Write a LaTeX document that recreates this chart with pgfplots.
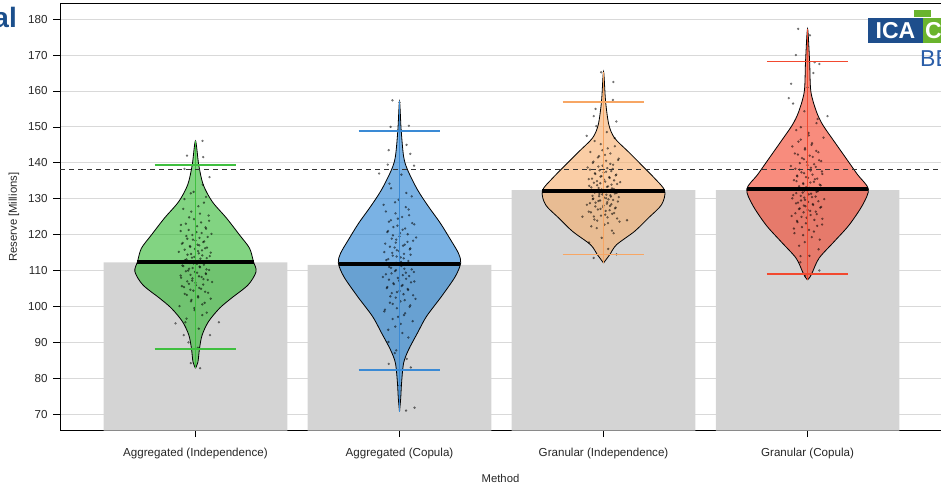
\documentclass[border=0pt]{standalone}
\usepackage{fontspec}
\setmainfont{Liberation Sans}
\usepackage{pgfplots}
\pgfplotsset{compat=1.18}
\usepackage{pgfplotstable}

\definecolor{gfill}{HTML}{2EB82E}
\definecolor{bfill}{HTML}{217FD2}
\definecolor{ofill}{HTML}{F6AC69}
\definecolor{rfill}{HTML}{F33F26}
\definecolor{gline}{HTML}{3FBF3F}
\definecolor{bline}{HTML}{3A8AD5}
\definecolor{oline}{HTML}{F7A664}
\definecolor{rline}{HTML}{F2492F}
\definecolor{barg}{HTML}{D4D4D4}
\definecolor{titleblue}{HTML}{1B4F8C}
\definecolor{icablue}{HTML}{1E4E8C}
\definecolor{icagreen}{HTML}{6AB42D}
\definecolor{beblue}{HTML}{2B5EA8}

% violin outlines (offset from category centre, value), right side up, left side down
\pgfplotstableread{
dx y
0 82.8
0.012 84.5
0.02 88.4
0.033 92.1
0.064 95.8
0.118 99.5
0.176 102.3
0.258 106.0
0.297 109.7
0.284 112.5
0.265 116.2
0.216 119.9
0.152 124.6
0.082 129.2
0.038 133.9
0.016 139.4
0 146.1
-0.016 139.4
-0.038 133.9
-0.082 129.2
-0.152 124.6
-0.216 119.9
-0.265 116.2
-0.284 112.5
-0.297 109.7
-0.258 106.0
-0.176 102.3
-0.118 99.5
-0.064 95.8
-0.033 92.1
-0.02 88.4
-0.012 84.5
0 82.8
}\vG
\pgfplotstableread{
dx y
0 70.7
0.006 74.5
0.01 78.6
0.02 84.2
0.044 87.9
0.088 92.6
0.132 97.2
0.206 102.8
0.273 108.3
0.300 112.1
0.289 114.8
0.25 118.6
0.2 123.2
0.142 127.8
0.088 132.5
0.039 138.1
0.02 141.8
0.008 149.2
0 157.1
-0.008 149.2
-0.02 141.8
-0.039 138.1
-0.088 132.5
-0.142 127.8
-0.2 123.2
-0.25 118.6
-0.289 114.8
-0.300 112.1
-0.273 108.3
-0.206 102.8
-0.132 97.2
-0.088 92.6
-0.044 87.9
-0.02 84.2
-0.01 78.6
-0.006 74.5
0 70.7
}\vB
\pgfplotstableread{
dx y
0 112.1
0.03 114.4
0.064 117.2
0.152 120.9
0.219 124.6
0.284 128.3
0.300 132.2
0.25 135.7
0.186 139.4
0.121 143.1
0.054 146.9
0.026 150.6
0.01 157.1
0 165.4
-0.01 157.1
-0.026 150.6
-0.054 146.9
-0.121 143.1
-0.186 139.4
-0.25 135.7
-0.300 132.2
-0.284 128.3
-0.219 124.6
-0.152 120.9
-0.064 117.2
-0.03 114.4
0 112.1
}\vO
\pgfplotstableread{
dx y
0 107.4
0.012 108.2
0.025 109.7
0.057 113.5
0.131 118.1
0.204 122.7
0.27 128.3
0.298 132.7
0.245 136.7
0.188 141.3
0.131 145.9
0.074 150.6
0.043 154.3
0.016 159.9
0.01 168.2
0 177.3
-0.01 168.2
-0.016 159.9
-0.043 154.3
-0.074 150.6
-0.131 145.9
-0.188 141.3
-0.245 136.7
-0.298 132.7
-0.27 128.3
-0.204 122.7
-0.131 118.1
-0.057 113.5
-0.025 109.7
-0.012 108.2
0 107.4
}\vR

% jittered points: offset from category centre, value
\pgfplotstableread{
dx y
0.031 133.9
-0.047 129.9
0.012 127.9
-0.018 126.4
0.056 125.3
-0.006 124.3
0.024 123.4
-0.062 122.7
0.043 122.0
-0.029 121.3
0.004 120.7
0.068 120.2
-0.039 119.6
0.017 119.1
-0.011 118.6
0.037 118.1
-0.054 117.7
0.009 117.2
-0.024 116.8
0.049 116.4
-0.002 116.0
0.028 115.6
-0.071 115.2
0.014 114.8
-0.034 114.4
0.061 114.0
-0.015 113.6
0.021 113.3
-0.044 112.9
0.002 112.5
0.062 92.0
-0.043 95.6
0.029 97.6
-0.004 99.0
-0.068 100.1
0.039 101.0
-0.017 101.8
0.011 102.5
-0.037 103.2
0.054 103.8
-0.009 104.4
0.024 104.9
-0.049 105.4
0.002 105.9
-0.028 106.3
0.071 106.8
-0.014 107.2
0.034 107.6
-0.061 108.0
0.015 108.4
-0.021 108.8
0.044 109.2
-0.002 109.6
-0.031 110.0
0.047 110.3
-0.012 110.7
0.018 111.1
-0.056 111.4
0.006 111.8
-0.024 112.1
0.03 146.1
-0.036 142.0
0.033 141.6
-0.047 138.3
0.06 136.0
-0.02 131.5
0.045 130.5
-0.085 95.3
0.10 95.6
-0.05 92.0
0.02 82.8
-0.02 84.2
0.01 88.5
-0.03 90.0
-0.008 131.9
0.036 128.9
-0.052 127.15
0.019 125.85
-0.027 124.8
0.058 123.85
-0.041 123.05
0.007 122.35
0.045 121.65
-0.063 121.0
0.026 120.45
-0.013 119.9
0.052 119.35
-0.035 118.85
0.0 118.35
0.033 117.9
-0.058 117.45
0.016 117.0
-0.022 116.6
0.041 116.2
-0.046 115.8
0.011 115.4
0.065 115.0
-0.019 114.6
0.029 114.2
-0.005 113.8
0.048 113.45
-0.038 113.1
0.014 112.7
0.014 93.8
-0.038 96.6
0.048 98.3
-0.005 99.55
0.029 100.55
-0.019 101.4
0.065 102.15
0.011 102.85
-0.046 103.5
0.041 104.1
-0.022 104.65
0.016 105.15
-0.058 105.65
0.033 106.1
0.0 106.55
-0.035 107.0
0.052 107.4
-0.013 107.8
0.026 108.2
-0.063 108.6
0.045 109.0
0.007 109.4
-0.041 109.8
0.058 110.15
-0.027 110.5
0.019 110.9
-0.052 111.25
0.036 111.6
-0.008 111.95
}\pG
\pgfplotstableread{
dx y
0.062 139.2
-0.043 134.2
0.029 131.6
-0.004 129.7
-0.068 128.3
0.039 127.0
-0.017 125.9
0.011 124.9
-0.037 124.0
0.054 123.2
-0.009 122.5
0.024 121.7
-0.049 121.0
0.002 120.4
-0.028 119.8
0.071 119.2
-0.014 118.6
0.034 118.0
-0.061 117.5
0.015 116.9
-0.021 116.4
0.044 115.9
-0.002 115.4
-0.031 114.9
0.047 114.4
-0.012 113.9
0.018 113.4
-0.056 112.9
0.006 112.4
-0.024 111.9
0.031 85.4
-0.047 90.1
0.012 92.6
-0.018 94.4
0.056 95.9
-0.006 97.1
0.024 98.1
-0.062 99.1
0.043 99.9
-0.029 100.7
0.004 101.4
0.068 102.1
-0.039 102.8
0.017 103.4
-0.011 104.0
0.037 104.6
-0.054 105.1
0.009 105.7
-0.024 106.2
0.049 106.7
-0.002 107.2
0.028 107.7
-0.071 108.2
0.014 108.7
-0.034 109.2
0.061 109.6
-0.015 110.1
0.021 110.5
-0.044 111.0
0.002 111.5
-0.03 157.4
0.00 156.8
-0.038 150.0
0.04 150.3
-0.046 143.5
0.046 142.5
-0.087 137.0
-0.05 139.5
0.03 145.0
0.064 71.8
0.028 71.0
0.048 83.0
-0.046 84.0
-0.02 87.0
0.0 78.0
0.008 136.7
-0.036 132.9
0.052 130.65
-0.019 129.0
0.027 127.65
-0.058 126.45
0.041 125.4
-0.007 124.45
-0.045 123.6
0.063 122.85
-0.026 122.1
0.013 121.35
-0.052 120.7
0.035 120.1
0.0 119.5
-0.033 118.9
0.058 118.3
-0.016 117.75
0.022 117.2
-0.041 116.65
0.046 116.15
-0.011 115.65
-0.065 115.15
0.019 114.65
-0.029 114.15
0.005 113.65
-0.048 113.15
0.038 112.65
-0.014 112.15
-0.014 87.75
0.038 91.35
-0.048 93.5
0.005 95.15
-0.029 96.5
0.019 97.6
-0.065 98.6
-0.011 99.5
0.046 100.3
-0.041 101.05
0.022 101.75
-0.016 102.45
0.058 103.1
-0.033 103.7
0.0 104.3
0.035 104.85
-0.052 105.4
0.013 105.95
-0.026 106.45
0.063 106.95
-0.045 107.45
-0.007 107.95
0.041 108.45
-0.058 108.95
0.027 109.4
-0.019 109.85
0.052 110.3
-0.036 110.75
0.008 111.25
}\pB
\pgfplotstableread{
dx y
-0.031 150.2
0.047 146.9
-0.012 145.2
0.018 144.0
-0.056 143.0
0.006 142.2
-0.024 141.5
0.062 140.8
-0.043 140.3
0.029 139.7
-0.004 139.2
-0.068 138.7
0.039 138.3
-0.017 137.9
0.011 137.5
-0.037 137.1
0.054 136.7
-0.009 136.3
0.024 136.0
-0.049 135.6
0.002 135.3
-0.028 134.9
0.071 134.6
-0.014 134.3
0.034 133.9
-0.061 133.6
0.015 133.3
-0.021 133.0
0.044 132.7
-0.002 132.4
-0.062 117.8
0.043 120.4
-0.029 121.8
0.004 122.8
0.068 123.6
-0.039 124.2
0.017 124.8
-0.011 125.3
0.037 125.8
-0.054 126.2
0.009 126.6
-0.024 127.0
0.049 127.3
-0.002 127.7
0.028 128.0
-0.071 128.3
0.014 128.6
-0.034 128.9
0.061 129.2
-0.015 129.5
0.021 129.8
-0.044 130.0
0.002 130.3
0.031 130.6
-0.047 130.8
0.012 131.1
-0.018 131.3
0.056 131.6
-0.006 131.8
0.024 132.1
-0.01 165.2
0.042 162.5
0.04 157.5
-0.034 155.0
0.055 151.5
-0.072 147.5
-0.042 153.0
0.10 124.0
-0.09 125.0
0.055 114.5
-0.042 113.5
0.02 116.0
0.014 148.55
-0.038 146.05
0.048 144.6
-0.005 143.5
0.029 142.6
-0.019 141.85
0.065 141.15
0.011 140.55
-0.046 140.0
0.041 139.45
-0.022 138.95
0.016 138.5
-0.058 138.1
0.033 137.7
0.0 137.3
-0.035 136.9
0.052 136.5
-0.013 136.15
0.026 135.8
-0.063 135.45
0.045 135.1
0.007 134.75
-0.041 134.45
0.058 134.1
-0.027 133.75
0.019 133.45
-0.052 133.15
0.036 132.85
-0.008 132.55
-0.008 119.1
0.036 121.1
-0.052 122.3
0.019 123.2
-0.027 123.9
0.058 124.5
-0.041 125.05
0.007 125.55
0.045 126.0
-0.063 126.4
0.026 126.8
-0.013 127.15
0.052 127.5
-0.035 127.85
0.0 128.15
0.033 128.45
-0.058 128.75
0.016 129.05
-0.022 129.35
0.041 129.65
-0.046 129.9
0.011 130.15
0.065 130.45
-0.019 130.7
0.029 130.95
-0.005 131.2
0.048 131.45
-0.038 131.7
0.014 131.95
}\pO
\pgfplotstableread{
dx y
-0.062 156.5
0.043 152.2
-0.029 149.9
0.004 148.3
0.068 147.0
-0.039 145.9
0.017 145.0
-0.011 144.1
0.037 143.3
-0.054 142.6
0.009 142.0
-0.024 141.3
0.049 140.7
-0.002 140.2
0.028 139.6
-0.071 139.1
0.014 138.6
-0.034 138.1
0.061 137.6
-0.015 137.1
0.021 136.7
-0.044 136.2
0.002 135.8
0.031 135.4
-0.047 134.9
0.012 134.5
-0.018 134.1
0.056 133.7
-0.006 133.2
0.024 132.8
-0.031 112.3
0.047 115.9
-0.012 117.9
0.018 119.3
-0.056 120.4
0.006 121.3
-0.024 122.1
0.062 122.8
-0.043 123.5
0.029 124.1
-0.004 124.7
-0.068 125.2
0.039 125.7
-0.017 126.2
0.011 126.6
-0.037 127.1
0.054 127.5
-0.009 127.9
0.024 128.3
-0.049 128.7
0.002 129.1
-0.028 129.5
0.071 129.9
-0.014 130.3
0.034 130.6
-0.061 131.0
0.015 131.4
-0.021 131.7
0.044 132.1
-0.002 132.4
-0.04 177.3
0.01 175.5
-0.05 170.0
0.03 168.0
0.05 167.5
0.025 165.0
-0.07 162.0
-0.08 158.0
0.085 153.0
0.0 161.0
0.05 110.0
-0.01 108.5
-0.03 114.0
-0.014 154.35
0.038 151.05
-0.048 149.1
0.005 147.65
-0.029 146.45
0.019 145.45
-0.065 144.55
-0.011 143.7
0.046 142.95
-0.041 142.3
0.022 141.65
-0.016 141.0
0.058 140.45
-0.033 139.9
0.0 139.35
0.035 138.85
-0.052 138.35
0.013 137.85
-0.026 137.35
0.063 136.9
-0.045 136.45
-0.007 136.0
0.041 135.6
-0.058 135.15
0.027 134.7
-0.019 134.3
0.052 133.9
-0.036 133.45
0.008 133.0
0.008 114.1
-0.036 116.9
0.052 118.6
-0.019 119.85
0.027 120.85
-0.058 121.7
0.041 122.45
-0.007 123.15
-0.045 123.8
0.063 124.4
-0.026 124.95
0.013 125.45
-0.052 125.95
0.035 126.4
0.0 126.85
-0.033 127.3
0.058 127.7
-0.016 128.1
0.022 128.5
-0.041 128.9
0.046 129.3
-0.011 129.7
-0.065 130.1
0.019 130.45
-0.029 130.8
0.005 131.2
-0.048 131.55
0.038 131.9
-0.014 132.25
}\pR

\newcommand{\violin}[3]{%
  \addplot[draw=black, line width=0.8pt, fill=#3, fill opacity=0.6, smooth, tension=0.5, forget plot] table[x expr=#2+\thisrow{dx}, y=y]{#1};
}
\newcommand{\jitter}[2]{%
  \addplot[only marks, mark=*, mark size=1pt, mark options={draw=black, fill=black, draw opacity=0.45, fill opacity=0.4}, forget plot] table[x expr=#2+1.15*\thisrow{dx}, y=y]{#1};
}

\begin{document}
\begin{tikzpicture}
\begin{axis}[
  set layers,
  scale only axis, width=881pt, height=427pt,
  xmin=-0.664, xmax=3.654, ymin=65.4, ymax=184.3,
  axis x line*=bottom, axis y line*=left,
  axis line style={-, black, line width=0.8pt},
  xtick={0,1,2,3},
  xticklabels={Aggregated (Independence), Aggregated (Copula), Granular (Independence), Granular (Copula)},
  ytick={70,80,...,180},
  ymajorgrids, grid style={gray!30, line width=0.9pt},
  tick align=outside, major tick length=6.5pt,
  tick style={black, line width=0.6pt},
  /pgf/number format/assume math mode=true,
  tick label style={font=\fontsize{11.6}{13}\selectfont, text=black!85},
  xticklabel style={yshift=-7pt},
  yticklabel style={xshift=-2.5pt},
  label style={font=\fontsize{11.3}{13}\selectfont, text=black!85},
  xlabel={Method}, ylabel={Reserve [Millions]},
  x label style={at={(axis description cs:0.5,-0.1108)}, anchor=center},
  y label style={at={(axis description cs:-0.0522,0.5)}, anchor=center},
  fg/.style={on layer=axis foreground, draw opacity=1},
]
\addplot[ybar, bar width=0.9, fill=barg, draw=none, forget plot] coordinates {(0,112.3) (1,111.6) (2,132.4) (3,132.4)};

\violin{\vG}{0}{gfill}
\violin{\vB}{1}{bfill}
\violin{\vO}{2}{ofill}
\violin{\vR}{3}{rfill}

\jitter{\pG}{0}
\jitter{\pB}{1}
\jitter{\pO}{2}
\jitter{\pR}{3}

% full range lines
\addplot[fg, gline, line width=1.4pt] coordinates {(0,82.8) (0,146.1)};
\addplot[fg, bline, line width=1.4pt] coordinates {(1,70.7) (1,157.1)};
\addplot[fg, oline, line width=1.4pt] coordinates {(2,112.1) (2,165.4)};
\addplot[fg, rline, line width=1.4pt] coordinates {(3,107.4) (3,177.3)};
% quantile whiskers
\addplot[fg, gline, line width=1.6pt] coordinates {(-0.2,139.4) (0.2,139.4)};
\addplot[fg, gline, line width=1.6pt] coordinates {(-0.2,88.1) (0.2,88.1)};
\addplot[fg, bline, line width=1.6pt] coordinates {(0.8,148.9) (1.2,148.9)};
\addplot[fg, bline, line width=1.6pt] coordinates {(0.8,82.3) (1.2,82.3)};
\addplot[fg, oline, line width=1.6pt] coordinates {(1.8,156.9) (2.2,156.9)};
\addplot[fg, oline, line width=1.6pt] coordinates {(1.8,114.5) (2.2,114.5)};
\addplot[fg, rline, line width=1.6pt] coordinates {(2.8,168.2) (3.2,168.2)};
\addplot[fg, rline, line width=1.6pt] coordinates {(2.8,109.1) (3.2,109.1)};
% medians
\addplot[fg, black, line width=3.6pt] coordinates {(-0.285,112.3) (0.285,112.3)};
\addplot[fg, black, line width=3.6pt] coordinates {(0.702,111.9) (1.298,111.9)};
\addplot[fg, black, line width=3.6pt] coordinates {(1.7,132.2) (2.3,132.2)};
\addplot[fg, black, line width=3.6pt] coordinates {(2.702,132.7) (3.298,132.7)};
% reference line
\addplot[fg, black!80, line width=1.1pt, dash pattern=on 5pt off 4pt] coordinates {(-0.664,138.1) (3.654,138.1)};

\draw[black, line width=0.8pt] (rel axis cs:0,1) -- (rel axis cs:1,1);
\end{axis}

% slide decorations (title fragment, logo)
\node[anchor=base east, inner sep=0pt, font=\bfseries\fontsize{28}{30}\selectfont, text=titleblue] at (-43pt,402.7pt) {al};
\fill[icablue] (808pt,387.7pt) rectangle (863pt,412.7pt);
\fill[icagreen] (863pt,387.7pt) rectangle (885pt,412.7pt);
\fill[icagreen] (854pt,413.7pt) rectangle (871pt,420.7pt);
\node[anchor=center, inner sep=0pt, font=\bfseries\fontsize{23}{25}\selectfont, text=white] at (835.5pt,400.2pt) {ICA};
\node[anchor=west, inner sep=0pt, font=\bfseries\fontsize{23}{25}\selectfont, text=white] at (865pt,400.2pt) {C};
\node[anchor=base west, inner sep=0pt, font=\fontsize{23}{25}\selectfont, text=beblue] at (860pt,363.7pt) {BE};

\pgfresetboundingbox
\path[use as bounding box] (-60pt,-55.3pt) rectangle (881pt,430.7pt);
\end{tikzpicture}
\end{document}
